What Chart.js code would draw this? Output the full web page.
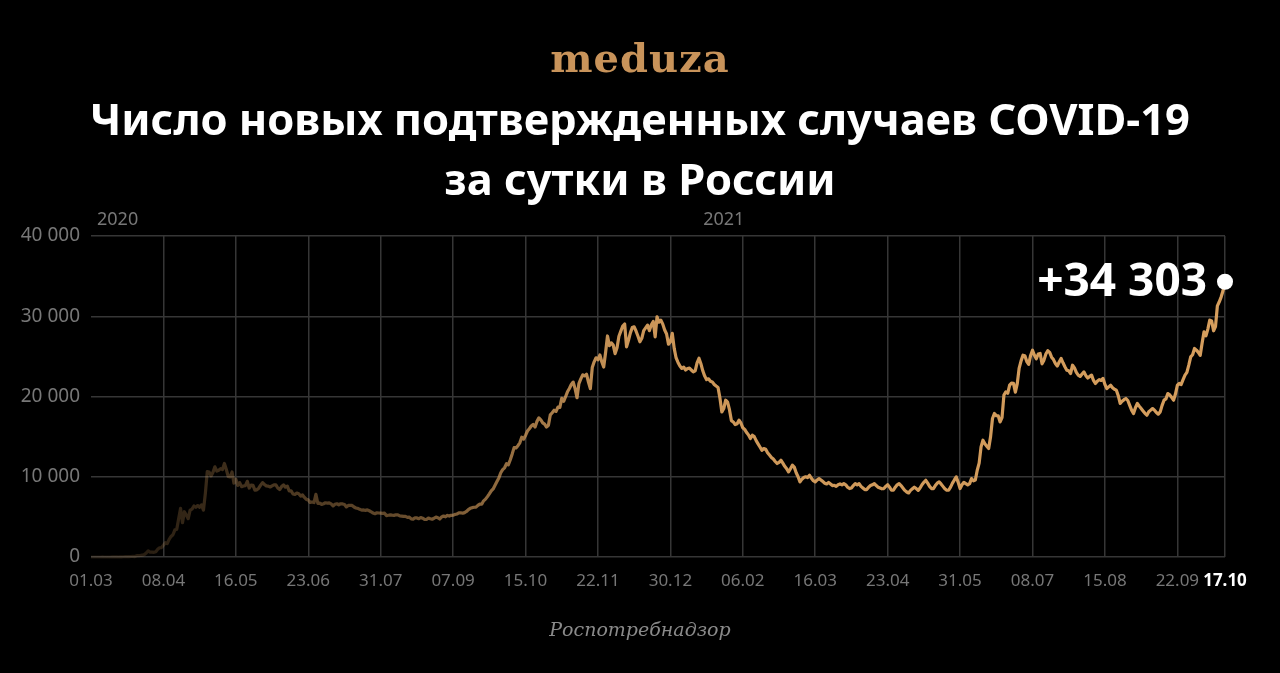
<!DOCTYPE html>
<html>
<head>
<meta charset="utf-8">
<script src="https://cdn.jsdelivr.net/npm/chart.js@4.4.1/dist/chart.umd.min.js"></script>
<style>
  html, body { margin: 0; padding: 0; background: #000; }
  #wrap { position: relative; width: 1280px; height: 673px; background: #000; overflow: hidden; }
  #chart { position: absolute; left: 0; top: 0; }
  .logo { position: absolute; left: 0; width: 1280px; top: 34px; text-align: center;
    font-family: "DejaVu Serif", serif; font-weight: bold; font-size: 40px; color: #c8935a; letter-spacing: 1px; }
  .title { position: absolute; left: 0; width: 1280px; top: 88px; text-align: center;
    font-family: "Noto Sans", sans-serif; font-weight: 700; font-size: 43.5px; line-height: 60px; color: #fff; }
  .source { position: absolute; left: 0; width: 1280px; top: 618px; text-align: center;
    font-family: "DejaVu Serif", serif; font-style: italic; font-size: 19px; color: #8a8a8a; }
</style>
</head>
<body>
<div id="wrap">
  <canvas id="chart" width="1280" height="673"></canvas>
  <div class="logo">meduza</div>
  <div class="title">Число новых подтвержденных случаев COVID-19<br>за сутки в России</div>
  <div class="source">Роспотребнадзор</div>
</div>
<script>
// daily new cases, one array per month
const mar20 = [0,0,1,0,1,0,4,3,0,2,3,8,11,14,4,30,21,33,52,54,53,61,71,57,163,182,196,228,302,500,771];
const apr20 = [601,601,582,658,954,1154,1175,1459,1786,1667,2186,2558,2774,3388,3448,4785,6060,4268,5642,5236,4774,5849,5966,6361,6198,6411,6200,6500,5841,7933];
const may20 = [10633,10581,10102,10559,11231,10699,10817,11012,10900,11656,10899,10028,9974,10598,9200,9709,8926,9263,8764,8849,8894,9434,8599,8946,8915,8338,8371,8572,8952,9268,9035];
const jun20 = [8863,8831,8726,8855,8984,8985,8595,8404,8779,8987,8706,8835,8248,8246,7843,7790,7972,7889,7600,7728,7425,7176,7113,6800,6852,6791,7800,6693,6719,6556];
const jul20 = [6632,6760,6718,6736,6611,6368,6562,6635,6509,6635,6615,6537,6248,6422,6428,6422,6234,6109,6065,5940,5842,5862,5811,5871,5765,5635,5475,5395,5509,5482,5462];
const aug20 = [5427,5462,5159,5204,5241,5212,5189,5267,5241,5118,5102,5057,5061,4945,4969,4748,4718,4892,4870,4767,4921,4838,4696,4676,4852,4765,4711,4829,4980,4897,4729];
const sep20 = [4993,5110,5013,5185,5099,5195,5205,5310,5363,5488,5509,5449,5529,5670,5905,6065,6148,6196,6215,6431,6595,6575,7000,7212,7523,7867,8232,8481,8945,9412];
const oct20 = [9859,10499,10888,11115,11615,11493,12126,12846,13634,13592,13868,14231,14922,14700,15150,15700,15982,16319,16521,16202,16900,17340,17100,16710,16550,16200,16420,17717,17975,18283,18140];
const nov20 = [18665,18648,19768,19404,19971,20582,21000,21500,21798,20977,19851,21608,22200,22702,22572,22778,21798,20985,23610,24318,24822,24581,25173,24326,23675,25487,27543,26338,26683,26402];
const dec20 = [25345,26063,27500,28145,28782,29039,26190,27000,27927,28585,28680,28137,27500,26810,27246,28214,28552,28890,28209,28948,29350,27430,29935,29258,29520,29018,28284,27787,26513,26810,27860];
const jan21 = [26000,24800,24246,23800,23500,23652,23300,23490,23541,23300,23070,23200,24200,24763,24092,23200,22542,22100,22200,21900,21820,21500,21300,21127,19800,18080,18500,19540,19290,18359,17000];
const feb21 = [16830,16500,16600,17050,16700,16100,15900,15500,15200,14760,15180,15000,14500,14100,13700,13300,13520,13433,13000,12700,12400,12200,11900,11650,11800,12060,11700,11300];
const mar21 = [11000,10600,11000,11430,11200,10500,10000,9350,9700,9900,10000,9900,10190,9800,9500,9350,9600,9770,9600,9400,9200,9100,9300,9100,8900,8940,8800,9000,9100,9000,9150];
const apr21 = [9000,8700,8530,8600,8900,9150,9000,9150,8800,8600,8400,8400,8700,8900,9000,9150,8900,8700,8600,8500,8530,8800,9000,8700,8320,8320,8700,9000,9150,8900];
const may21 = [8600,8300,8100,7980,8300,8500,8700,8530,8300,8600,9000,9300,9560,9200,8800,8530,8530,8900,9200,9350,9100,8800,8500,8320,8320,8700,9200,9600,9980,9300,8530];
const jun21 = [9000,9300,9150,9000,9150,9770,9500,9600,10810,11700,13720,14550,14100,13800,13520,15000,17262,17880,17611,17594,16830,17378,20182,20580,20393,21410,21665,21650,20538,21600];
const jul21 = [23543,24439,25150,25082,24353,24000,25116,25766,25142,24702,25300,25360,24072,24530,25293,25704,25500,24900,24600,24120,23800,24300,24740,24200,23700,23270,23200,22870,23900,23564,23000];
const aug21 = [22660,22500,22800,23070,22600,22300,22500,22660,22000,21620,21900,22100,22000,22250,21500,21000,21200,21400,21100,20900,20790,20100,19130,19400,19600,19750,19500,18900,18300,17880,18600];
const sep21 = [19130,18800,18500,18200,17900,17670,18100,18300,18500,18300,18000,17800,18080,18900,19540,19700,20370,20200,19900,19540,20300,21400,21620,21500,22100,22660,23000,23900,24940,25200];
const oct21 = [25980,25781,25500,25133,26678,28060,27550,28400,29520,29409,28190,28717,31299,31800,32420,33208,34303];

// x axis: day number from 01.03.2020, and its labels
const tickDays = [0,38,76,114,152,190,228,266,304,342,380,418,456,494,532,570,595];
const tickLabels = ['01.03','08.04','16.05','23.06','31.07','07.09','15.10','22.11','30.12','06.02','16.03','23.04','31.05','08.07','15.08','22.09','17.10'];
const yearLabels = ['2020','2021'];
const yearDays = [0, 306];
const yTicks = [0,10000,20000,30000,40000];

const cases = [].concat(mar20, apr20, may20, jun20, jul20, aug20, sep20, oct20, nov20, dec20,
  jan21, feb21, mar21, apr21, may21, jun21, jul21, aug21, sep21, oct21);
const points = cases.map((v, i) => ({ x: i, y: v }));
const last = points.length - 1;

const fmt = (n) => String(n).replace(/\B(?=(\d{3})+(?!\d))/g, ' ');
const gold = [214, 158, 93];

const extras = {
  id: 'extras',
  afterDraw(chart) {
    const c = chart.ctx;
    const xs = chart.scales.x;
    c.save();
    // year captions above the plot
    c.fillStyle = '#777';
    c.font = '18px "Noto Sans"';
    c.textAlign = 'left';
    c.textBaseline = 'middle';
    c.fillText(yearLabels[0], xs.getPixelForValue(yearDays[0]) + 6, 220);
    c.fillText(yearLabels[1], xs.getPixelForValue(yearDays[1]) + 29, 220);
    // last value caption
    const p = chart.getDatasetMeta(0).data[last];
    c.fillStyle = '#fff';
    c.font = 'bold 46px "Noto Sans"';
    c.textAlign = 'right';
    c.textBaseline = 'middle';
    c.fillText('+' + fmt(cases[last]), p.x - 18, p.y + 1);
    c.restore();
  }
};

new Chart(document.getElementById('chart'), {
  type: 'line',
  data: {
    datasets: [{
      data: points,
      borderWidth: 3.2,
      borderJoinStyle: 'round',
      tension: 0,
      borderColor: (ctx) => {
        const area = ctx.chart.chartArea;
        if (!area) return 'rgb(214,158,93)';
        const g = ctx.chart.ctx.createLinearGradient(area.left, 0, area.right, 0);
        g.addColorStop(0, `rgba(${gold},0.12)`);
        g.addColorStop(0.13, `rgba(${gold},0.3)`);
        g.addColorStop(0.26, `rgba(${gold},0.45)`);
        g.addColorStop(0.38, `rgba(${gold},0.72)`);
        g.addColorStop(0.47, `rgba(${gold},0.95)`);
        g.addColorStop(1, `rgba(${gold},1)`);
        return g;
      },
      pointRadius: (ctx) => ctx.dataIndex === last ? 8 : 0,
      pointBackgroundColor: '#fff',
      pointBorderWidth: 0,
      clip: false
    }]
  },
  options: {
    responsive: false,
    animation: false,
    layout: { padding: { top: 236, right: 55, bottom: 0, left: 0 } },
    plugins: { legend: { display: false }, tooltip: { enabled: false } },
    scales: {
      x: {
        type: 'linear',
        min: 0,
        max: 595,
        afterBuildTicks: (s) => { s.ticks = tickDays.map((d) => ({ value: d })); },
        afterFit: (s) => { s.height = 116; },
        ticks: {
          autoSkip: false,
          maxRotation: 0,
          padding: 14,
          callback: (v, i) => tickLabels[i],
          color: (ctx) => ctx.index === tickDays.length - 1 ? '#fff' : '#777',
          font: (ctx) => ({ family: 'Noto Sans', size: 17, weight: ctx.index === tickDays.length - 1 ? 'bold' : 'normal' })
        },
        grid: {
          color: (ctx) => ctx.index === 0 ? 'rgba(0,0,0,0)' : '#363636',
          lineWidth: 1.5,
          drawTicks: false
        },
        border: { display: false }
      },
      y: {
        min: 0,
        max: 40000,
        afterBuildTicks: (s) => { s.ticks = yTicks.map((v) => ({ value: v })); },
        afterFit: (s) => { s.width = 91; },
        ticks: {
          padding: 11,
          color: '#777',
          font: { family: 'Noto Sans', size: 19 },
          callback: (v) => fmt(v)
        },
        grid: { color: '#363636', lineWidth: 1.5, drawTicks: false },
        border: { display: false }
      }
    }
  },
  plugins: [extras]
});
</script>
</body>
</html>
